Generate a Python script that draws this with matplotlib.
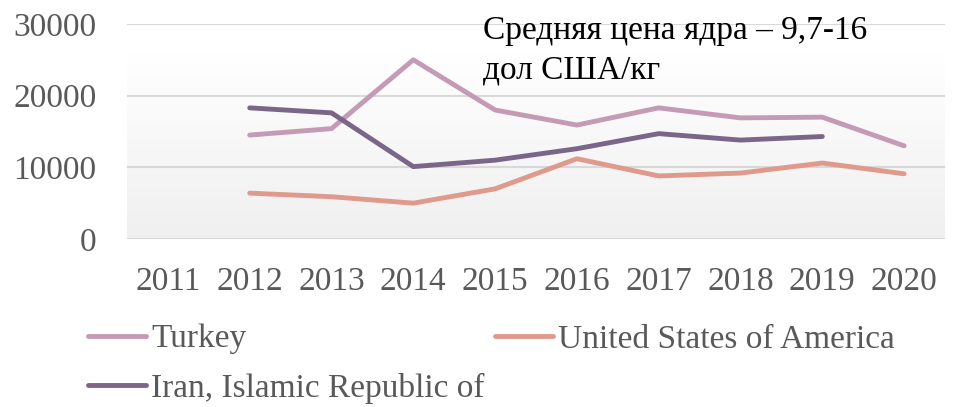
import numpy as np
import matplotlib.pyplot as plt

years = ["2011", "2012", "2013", "2014", "2015", "2016", "2017", "2018", "2019", "2020"]
turkey = [np.nan, 14500, 15400, 25000, 18000, 15900, 18300, 16900, 17000, 13000]
usa = [np.nan, 6400, 5900, 5000, 7000, 11200, 8800, 9200, 10600, 9100]
iran = [np.nan, 18300, 17600, 10100, 11000, 12600, 14700, 13800, 14300, np.nan]
yticks = [0, 10000, 20000, 30000]
note = "Средняя цена ядра – 9,7-16\nдол США/кг"

plt.rcParams['font.family'] = ['Liberation Serif', 'DejaVu Serif']

fig = plt.figure(figsize=(9.61, 4.07), dpi=100)
ax = fig.add_axes([127 / 961, 1 - 239 / 407, (945 - 127) / 961, (239 - 24) / 407])

x = np.arange(len(years))
ax.set_xlim(-0.5, len(years) - 0.5)
ax.set_ylim(0, 30000)

# soft gray gradient behind the lines
grad = np.linspace(0.94, 1.0, 256).reshape(-1, 1)
ax.imshow(np.dstack([grad, grad, grad]), extent=[-0.5, len(years) - 0.5, 0, 26000],
          aspect='auto', origin='lower', zorder=0)

ax.set_yticks(yticks)
ax.grid(axis='y', color='#d9d9d9', linewidth=1.5, zorder=1)
for s in ax.spines.values():
    s.set_visible(False)
ax.tick_params(length=0, labelsize=24, colors='#595959', pad=20)
ax.tick_params(axis='y', pad=22)
ax.set_xticks(x)
ax.set_xticklabels(years)

ax.plot(x, turkey, color='#c49ab5', lw=3.5, label='Turkey', zorder=3, solid_capstyle='round')
ax.plot(x, usa, color='#df9a8c', lw=3.5, label='United States of America', zorder=3, solid_capstyle='round')
ax.plot(x, iran, color='#7a6688', lw=3.5, label='Iran, Islamic Republic of', zorder=3, solid_capstyle='round')

ax.text(483 / 961, 1 - 15 / 407, note, transform=fig.transFigure, fontsize=24,
        va='top', ha='left', color='black', linespacing=1.4)

h, l = ax.get_legend_handles_labels()
order = [0, 2, 1]
leg = fig.legend([h[i] for i in order], [l[i] for i in order], loc='upper left',
                 bbox_to_anchor=(88 / 961, 1 - 324 / 407), ncol=2,
                 frameon=False, fontsize=24, handlelength=1.75, handletextpad=0.15,
                 columnspacing=0.3, labelspacing=0.55, borderpad=0, borderaxespad=0)
for t in leg.get_texts():
    t.set_color('#595959')

fig.savefig('out.png', dpi=100)
